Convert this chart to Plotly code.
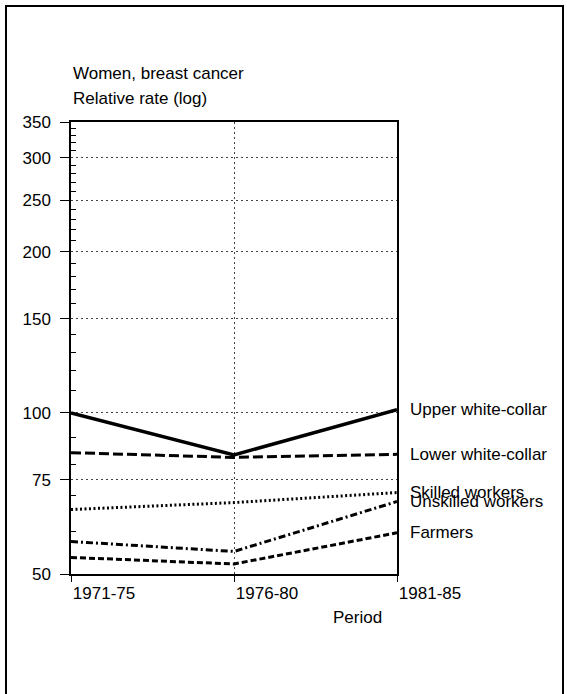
import numpy as np
import plotly.graph_objects as go

# Breast cancer among women, relative rate by social class and period
periods = ["1971-75", "1976-80", "1981-85"]
groups = ["Upper white-collar", "Lower white-collar", "Skilled workers",
          "Unskilled workers", "Farmers"]
upper_white_collar = [100.0, 83.5, 101.4]
lower_white_collar = [84.3, 82.6, 83.7]
skilled_workers = [66.0, 68.0, 71.0]
unskilled_workers = [57.5, 55.1, 68.3]
farmers = [53.7, 52.2, 59.7]

y_ticks = [50, 75, 100, 150, 200, 250, 300, 350]
y_minor = [60, 70, 80, 90] + list(range(110, 350, 10))
y_minor = [v for v in y_minor if v not in y_ticks]

series = [upper_white_collar, lower_white_collar, skilled_workers,
          unskilled_workers, farmers]
styles = [
    dict(width=3.5, dash="solid"),
    dict(width=3, dash="10px,4px"),
    dict(width=3, dash="2px,2.5px"),
    dict(width=3, dash="7px,3px,2px,3px"),
    dict(width=3, dash="6px,3px"),
]

FONT = "Liberation Sans, Arial, sans-serif"
FS = 17

x = list(range(len(periods)))
fig = go.Figure()
for name, vals, st in zip(groups, series, styles):
    fig.add_trace(go.Scatter(
        x=x, y=vals, mode="lines", name=name,
        line=dict(color="black", **st), showlegend=False,
        hoverinfo="skip",
    ))

# Transparent copy of one series so the minor-tick overlay axis is laid out
fig.add_trace(go.Scatter(
    x=x, y=upper_white_collar, yaxis="y2", mode="lines",
    line=dict(color="rgba(0,0,0,0)", width=0), opacity=0,
    showlegend=False, hoverinfo="skip",
))

# End-of-line labels
for name, vals in zip(groups, series):
    fig.add_annotation(
        x=x[-1], y=np.log10(vals[-1]), text=name, showarrow=False,
        xanchor="left", yanchor="middle", xshift=11,
        font=dict(family=FONT, size=FS, color="black"),
    )

# Headings and axis title
fig.add_annotation(x=0, y=(574 - 73) / 452, xref="paper", yref="paper",
                   text="Women, breast cancer", showarrow=False,
                   xanchor="left", yanchor="middle",
                   font=dict(family=FONT, size=FS, color="black"))
fig.add_annotation(x=0, y=(574 - 99) / 452, xref="paper", yref="paper",
                   text="Relative rate (log)", showarrow=False,
                   xanchor="left", yanchor="middle",
                   font=dict(family=FONT, size=FS, color="black"))
fig.add_annotation(x=(357 - 71) / 326, y=(574 - 617) / 452,
                   xref="paper", yref="paper", text="Period",
                   showarrow=False, xanchor="center", yanchor="middle",
                   font=dict(family=FONT, size=FS, color="black"))

# Outer frame
fig.add_shape(type="rect", xref="paper", yref="paper",
              x0=(6 - 71) / 326, x1=(563 - 71) / 326,
              y0=(574 - 710) / 452, y1=(574 - 6) / 452,
              line=dict(color="black", width=2), fillcolor="rgba(0,0,0,0)",
              layer="above")

fig.update_xaxes(
    range=[0, 2], tickvals=x, ticktext=periods,
    showline=True, mirror=True, linecolor="black", linewidth=1.5,
    ticks="outside", ticklen=6, tickcolor="black", tickwidth=1.2,
    ticklabelshift=33, ticklabelstandoff=-3,
    showgrid=True, gridcolor="#444", griddash="2px,3px", gridwidth=1,
    zeroline=False,
    tickfont=dict(family=FONT, size=FS, color="black"),
)
fig.update_yaxes(
    type="log", range=[np.log10(50), np.log10(350)],
    tickvals=y_ticks, ticktext=[str(v) for v in y_ticks],
    showline=True, mirror=True, linecolor="black", linewidth=1.5,
    ticks="outside", ticklen=9, tickcolor="black", tickwidth=1.2,
    ticklabelstandoff=6,
    showgrid=True, gridcolor="#444", griddash="2px,3px", gridwidth=1,
    zeroline=False,
    tickfont=dict(family=FONT, size=FS, color="black"),
)

# Overlay axis carrying the short inside minor ticks
fig.update_layout(yaxis2=dict(
    type="log", range=[np.log10(50), np.log10(350)],
    overlaying="y", anchor="x", side="left",
    tickvals=y_minor, ticks="inside", ticklen=5, tickwidth=1,
    tickcolor="black", showticklabels=False, showgrid=False,
    showline=False, zeroline=False,
))

fig.update_layout(
    width=567, height=694,
    margin=dict(l=71, r=170, t=122, b=120),
    paper_bgcolor="white", plot_bgcolor="white",
    font=dict(family=FONT, color="black"),
)

fig.write_html("out.html")
